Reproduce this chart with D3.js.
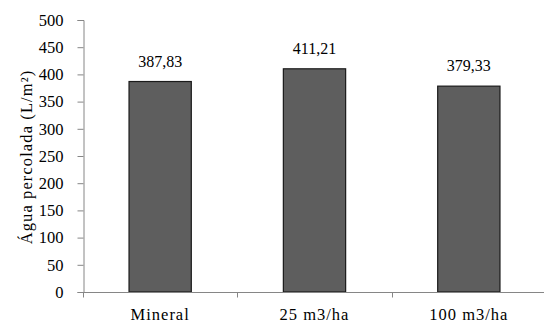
<!DOCTYPE html>
<html>
<head>
<meta charset="utf-8">
<script src="https://cdn.jsdelivr.net/npm/d3@7"></script>
<style>
  html, body { margin: 0; padding: 0; background: #fff; }
</style>
</head>
<body>
<svg id="chart" width="544" height="322"></svg>
<script>
const categories = ["Mineral", "25 m3/ha", "100 m3/ha"];
const values = [387.83, 411.21, 379.33];
const valueLabels = ["387,83", "411,21", "379,33"];
const yTicks = [0, 50, 100, 150, 200, 250, 300, 350, 400, 450, 500];
const yTitle = "Água percolada (L/m²)";

const FONT = "'Liberation Serif'";
const svg = d3.select("#chart");
const mLeft = 83, mRight = 546, mTop = 20, mBottom = 292;

const x = d3.scaleBand().domain(categories).range([mLeft, mRight]).paddingInner(0.59).paddingOuter(0.295);
const y = d3.scaleLinear().domain([0, 500]).range([mBottom, mTop]);

const axisColor = "#868686";

// bars
svg.append("g").selectAll("rect").data(values).join("rect")
  .attr("x", (d, i) => x(categories[i]) + 0.5)
  .attr("y", d => y(d) + 0.5)
  .attr("width", x.bandwidth() - 1)
  .attr("height", d => mBottom - y(d) - 0.5)
  .attr("fill", "#5e5e5e")
  .attr("stroke", "#1a1a1a")
  .attr("stroke-width", 1.2);

// y axis
const yAxis = svg.append("g").attr("transform", `translate(${mLeft + 0.5},0)`)
  .call(d3.axisLeft(y).tickValues(yTicks).tickSize(6).tickPadding(14).tickFormat(d3.format("d")));
yAxis.attr("font-family", FONT).attr("font-size", 16.5);
yAxis.select(".domain").attr("stroke", axisColor);
yAxis.selectAll(".tick line").attr("stroke", axisColor);
yAxis.selectAll(".tick text").style("font-family", FONT).style("font-size", "16.5px").attr("fill", "#000");

// x axis (ticks at band boundaries)
const xg = svg.append("g").attr("transform", `translate(0,${mBottom + 0.5})`);
xg.append("line").attr("x1", mLeft).attr("x2", mRight).attr("stroke", axisColor);
const boundaries = d3.range(categories.length + 1).map(i => mLeft + i * (mRight - mLeft) / categories.length);
xg.selectAll("line.tk").data(boundaries).join("line").attr("class", "tk")
  .attr("x1", d => Math.round(d) + 0.5).attr("x2", d => Math.round(d) + 0.5)
  .attr("y1", 0).attr("y2", 5).attr("stroke", axisColor);
xg.selectAll("text").data(categories).join("text")
  .attr("x", d => x(d) + x.bandwidth() / 2)
  .attr("y", 27)
  .attr("text-anchor", "middle")
  .style("font-family", FONT)
  .style("font-size", "16.5px")
  .style("letter-spacing", "1px")
  .text(d => d);

// value labels
svg.append("g").selectAll("text").data(values).join("text")
  .attr("x", (d, i) => x(categories[i]) + x.bandwidth() / 2)
  .attr("y", d => y(d) - 14.5)
  .attr("text-anchor", "middle")
  .style("font-family", FONT)
  .style("font-size", "16px")
  .text((d, i) => valueLabels[i]);

// y title
svg.append("text")
  .attr("transform", `translate(32,157) rotate(-90)`)
  .attr("text-anchor", "middle")
  .style("font-family", FONT)
  .style("font-size", "16.5px")
  .style("letter-spacing", "1.1px")
  .text(yTitle);
</script>
</body>
</html>
